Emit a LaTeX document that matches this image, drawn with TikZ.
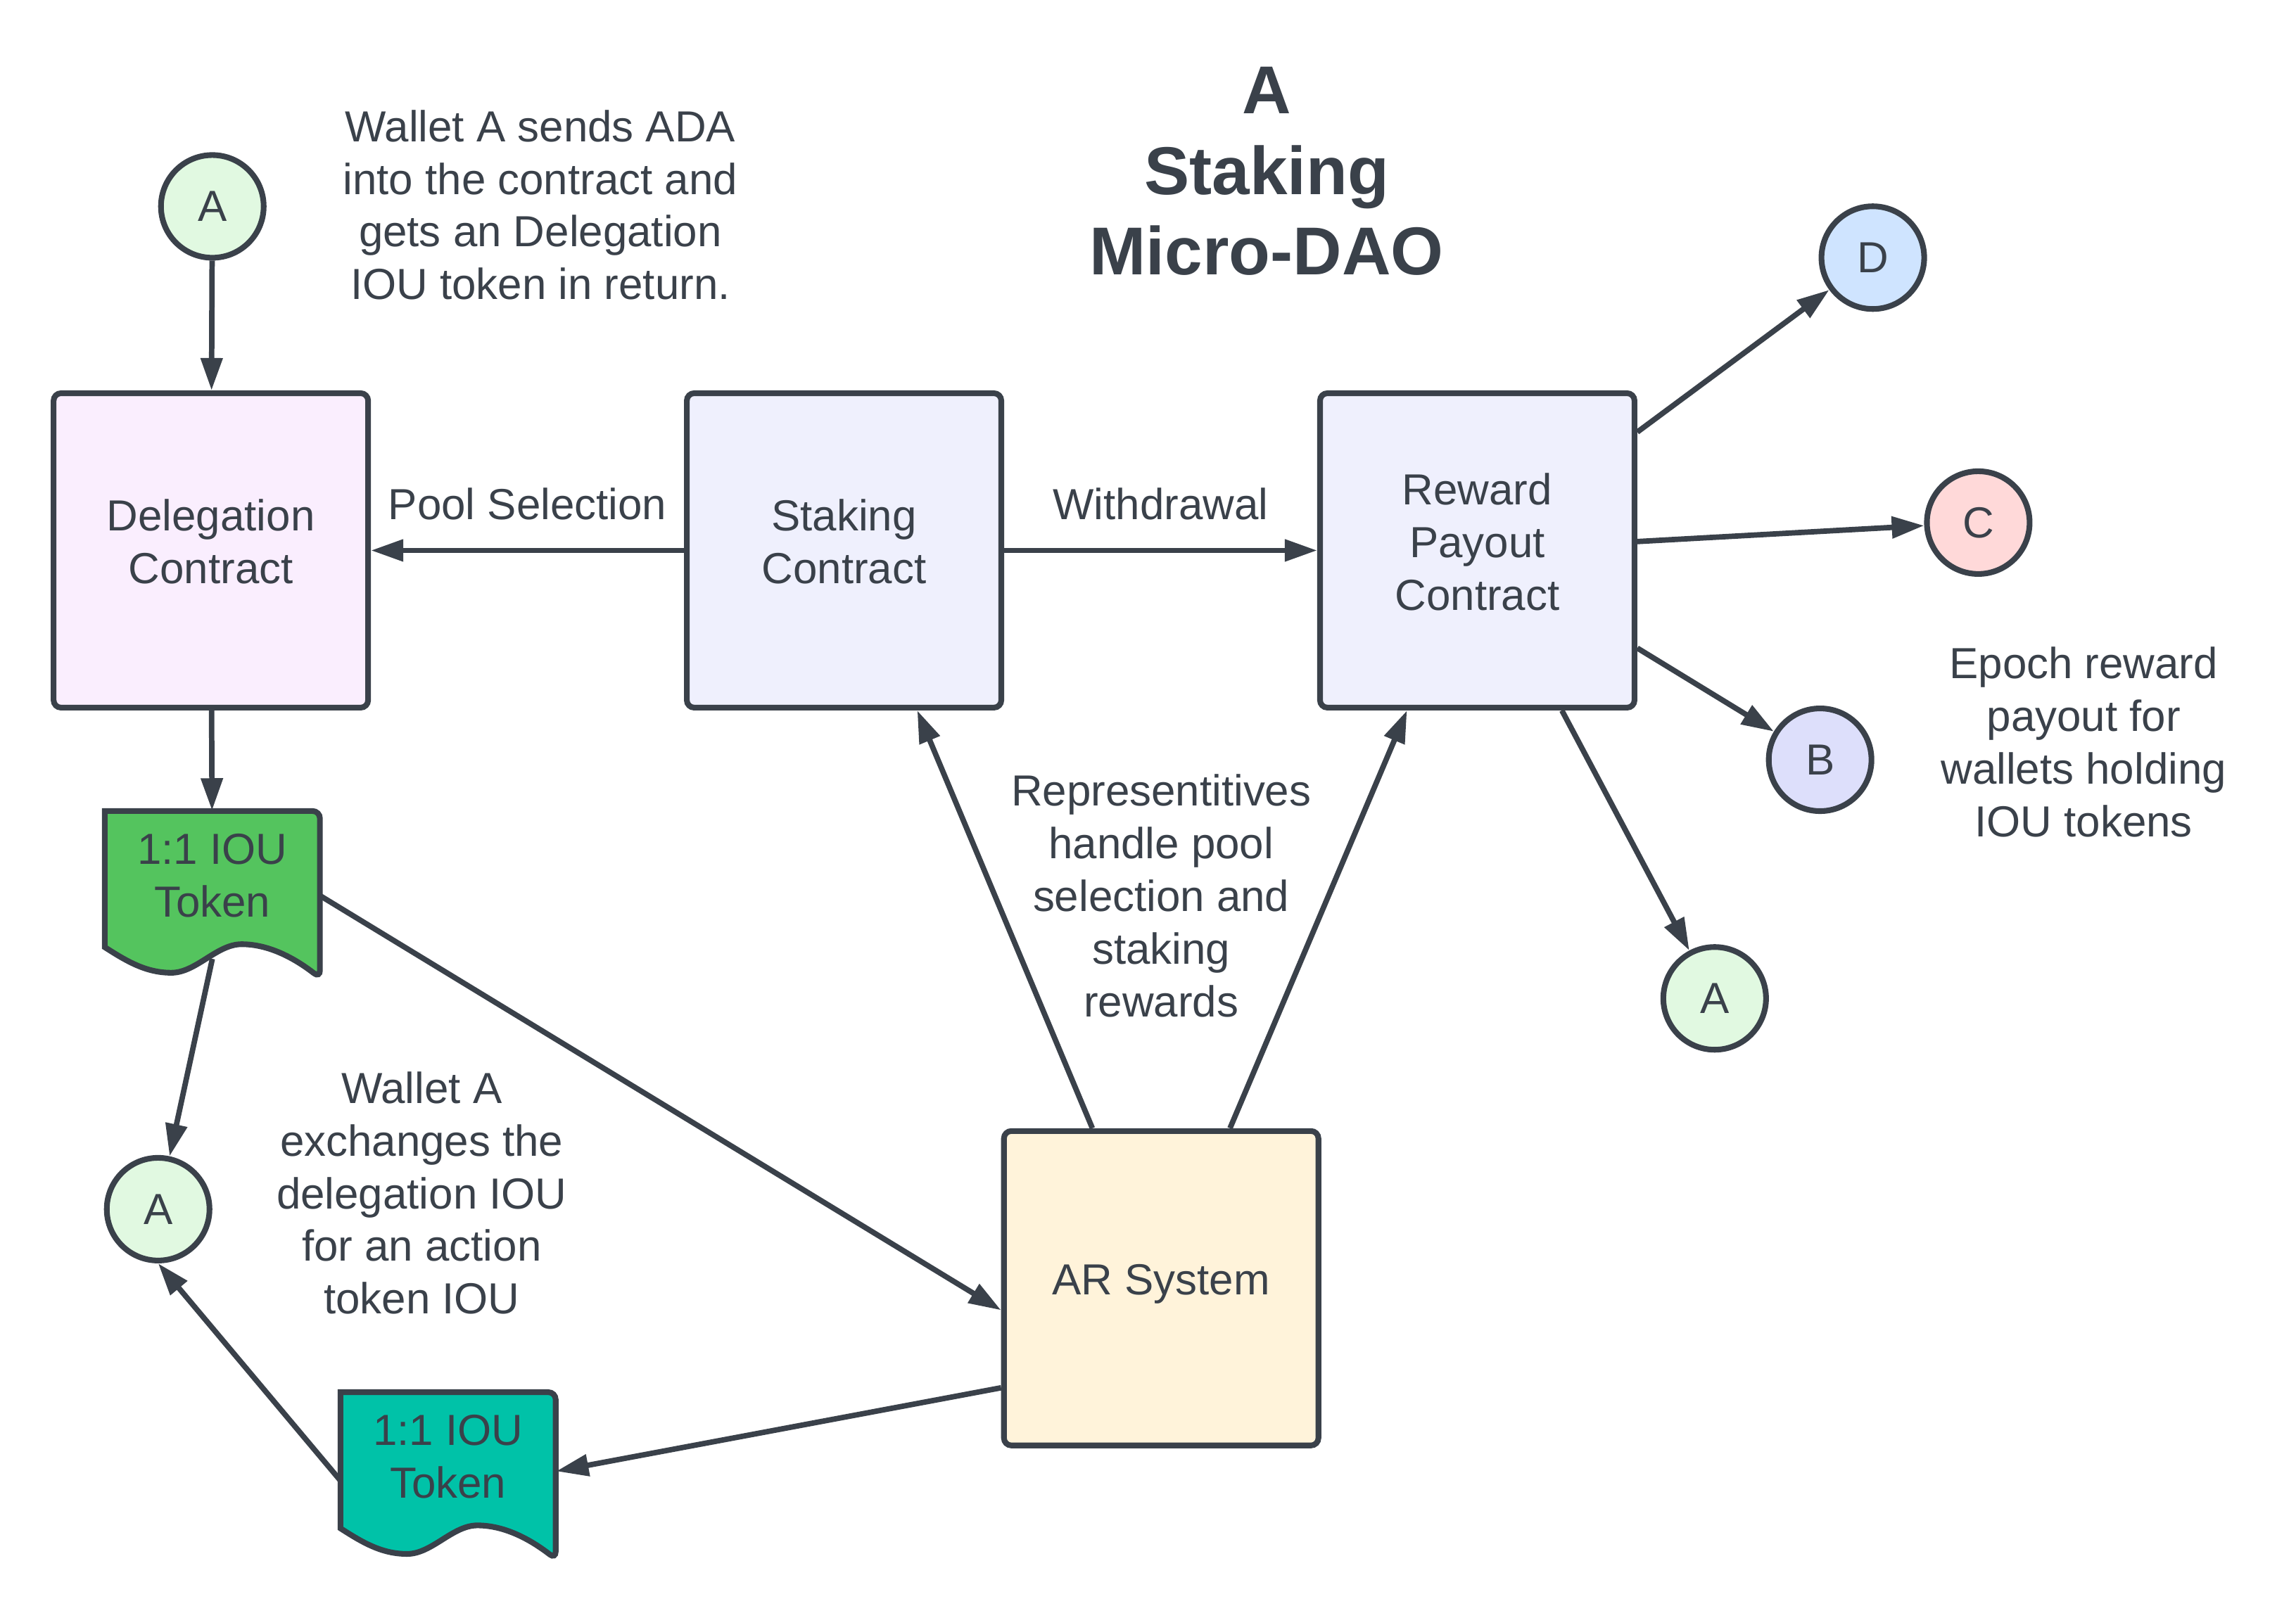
\documentclass[tikz,border=0pt]{standalone}
\usepackage{fontspec}
\setmainfont{Liberation Sans}
\usetikzlibrary{arrows.meta, positioning, calc, shapes.geometric}

\definecolor{inkgray}{HTML}{3A414A}
\definecolor{delegfill}{HTML}{FAEEFE}
\definecolor{contractfill}{HTML}{EFF0FD}
\definecolor{arfill}{HTML}{FFF3DA}
\definecolor{tokengreen}{HTML}{54C45E}
\definecolor{tokenteal}{HTML}{00C2A8}
\definecolor{walletA}{HTML}{E1F9E1}
\definecolor{walletB}{HTML}{DDDFFB}
\definecolor{walletC}{HTML}{FFD9D9}
\definecolor{walletD}{HTML}{CFE4FF}

% document shape with a wavy bottom, #1 = centre, #2 = fill
\newcommand{\ioushape}[2]{%
  \draw[draw=inkgray, line width=2.3pt, fill=#2, rounded corners=3pt]
    ($(#1)+(-73.5,-44)$) -- ($(#1)+(73.5,-44)$) -- ($(#1)+(73.5,70)$) [sharp corners]
    .. controls ($(#1)+(58,58)$) and ($(#1)+(40,47)$) .. ($(#1)+(20,47)$)
    .. controls ($(#1)+(3,47)$) and ($(#1)+(-11,66.5)$) .. ($(#1)+(-28,66.5)$)
    .. controls ($(#1)+(-45,66.5)$) and ($(#1)+(-58,59)$) .. ($(#1)+(-73.5,49)$) -- cycle;}

\begin{document}
\begin{tikzpicture}[x=0.02081cm, y=-0.02081cm, every node/.style={text=inkgray, font=\fontsize{17.6}{21.3}\selectfont}]
    % Styles
    \tikzstyle{block} = [rectangle, draw=inkgray, line width=2.3pt, rounded corners=3pt,
                        minimum width=4.47cm, minimum height=4.47cm, align=center, text depth=0.25cm]
    \tikzstyle{wallet} = [circle, draw=inkgray, line width=2.3pt, minimum size=1.46cm, inner sep=0pt]
    \tikzstyle{note} = [align=center]
    \tikzstyle{iou} = [align=center, minimum width=3.06cm, minimum height=1.83cm, inner sep=0pt]
    \tikzstyle{flow} = [draw=inkgray, line width=2.2pt, -{Triangle[length=0.46cm, width=0.30cm]}]

    \useasboundingbox (0,0) rectangle (1568,1097);

    % Title and notes
    \node[note, font=\fontsize{27.4}{32.5}\selectfont\bfseries] (title) at (865,117) {A\\Staking\\Micro-DAO};
    \node[note] (sendnote) at (369,140) {Wallet A sends ADA\\into the contract and\\gets an Delegation\\IOU token in return.};
    \node[note] (repnote) at (793,612) {Representitives\\handle pool\\selection and\\staking\\rewards};
    \node[note] (swapnote) at (288,815) {Wallet A\\exchanges the\\delegation IOU\\for an action\\token IOU};
    \node[note] (epochnote) at (1423,507) {Epoch reward\\payout for\\wallets holding\\IOU tokens};

    % Contracts
    \node[block, fill=delegfill] at (144,376) (deleg) {Delegation\\Contract};
    \node[block, fill=contractfill, right of=deleg, node distance=9cm] (staking) {Staking\\Contract};
    \node[block, fill=contractfill, right of=staking, node distance=9cm] (reward) {Reward\\Payout\\Contract};
    \node[block, fill=arfill] at (793,880) (ar) {AR System};

    % Wallets
    \node[wallet, fill=walletA] at (145,141) (wa1) {A};
    \node[wallet, fill=walletA] at (108,826) (wa2) {A};
    \node[wallet, fill=walletA] at (1171,682) (wa3) {A};
    \node[wallet, fill=walletB] at (1243,519) (wb) {B};
    \node[wallet, fill=walletC] at (1351,357) (wc) {C};
    \node[wallet, fill=walletD] at (1279,176) (wd) {D};

    % IOU tokens
    \coordinate (t1c) at (145,598);
    \coordinate (t2c) at (306,995);
    \ioushape{t1c}{tokengreen}
    \ioushape{t2c}{tokenteal}
    \node[iou] at (t1c) (tok1) {1:1 IOU\\Token};
    \node[iou] at (t2c) (tok2) {1:1 IOU\\Token};

    % Connections
    \draw[flow] (wa1) -- (deleg);
    \draw[flow] (staking) -- node[above=8pt] {Pool Selection} (deleg);
    \draw[flow] (staking) -- node[above=8pt] {Withdrawal} (reward);
    \draw[flow] (reward) -- (wd);
    \draw[flow] (reward) -- (wc);
    \draw[flow] (reward) -- (wb);
    \draw[flow] (reward) -- (wa3);
    \draw[flow] (deleg) -- (tok1);
    \draw[flow] ($(tok1)+(0,57)$) -- (wa2);
    \draw[flow] ($(tok1.east)+(0,14)$) -- ($(ar.west)+(0,15)$);
    \draw[flow] ($(ar.north)+(-47,0)$) -- ($(staking.south)+(50,0)$);
    \draw[flow] ($(ar.north)+(47,0)$) -- ($(reward.south)+(-48,0)$);
    \draw[flow] ($(ar.west)+(0,68)$) -- ($(tok2.east)+(0,10)$);
    \draw[flow] ($(tok2.west)+(0,16)$) -- (wa2.south);
\end{tikzpicture}
\end{document}
